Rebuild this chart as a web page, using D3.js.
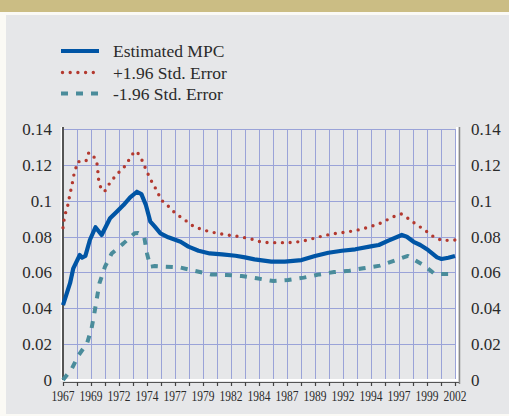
<!DOCTYPE html>
<meta charset="utf-8">
<style>
body { margin: 0; background: #fbfaf5; }
svg { display: block; }
text { font-family: "Liberation Serif", "Times New Roman", serif; fill: #2b2b2b; }
.grid line { stroke: #9aa3d8; stroke-width: 1; }
</style>
<svg width="509" height="416"></svg>
<script src="https://cdn.jsdelivr.net/npm/d3@7"></script>
<script>

// values, as [year, value]
var mpc = [[1967,0.0418],[1967.63,0.054],[1967.92,0.0623],[1968.5,0.0697],[1968.7,0.0682],[1969.0,0.0692],
  [1969.4,0.0781],[1969.9,0.0852],[1970.45,0.0809],[1971.2,0.0902],[1971.8,0.0939],[1972.4,0.0976],
  [1973.0,0.1019],[1973.6,0.105],[1974.0,0.1037],[1974.4,0.0976],[1974.8,0.0883],[1975.2,0.0855],
  [1975.7,0.0818],[1976.4,0.0796],[1977.5,0.0771],[1978.2,0.0744],[1979.1,0.0721],[1980.1,0.0706],
  [1981.2,0.0701],[1982.4,0.0693],[1983.25,0.0684],[1984.1,0.0673],[1985.6,0.066],[1986.8,0.066],
  [1988.3,0.0669],[1989.5,0.0692],[1990.7,0.071],[1991.9,0.0721],[1993.1,0.0729],[1994.6,0.0747],
  [1995.2,0.0753],[1996.05,0.0777],[1997.25,0.0809],[1997.7,0.0799],[1998.3,0.0771],[1998.9,0.0753],
  [1999.6,0.0725],[2000.4,0.0684],[2000.8,0.0675],[2001.4,0.0682],[2002,0.0692]];

var upper = [[1967,0.0849],[1967.1,0.0896],[1967.27,0.0943],[1967.5,0.0989],[1967.6,0.1036],[1967.8,0.1082],
  [1967.9,0.1128],[1968.1,0.1171],[1968.3,0.1218],[1968.6,0.1218],[1969.05,0.1221],[1969.3,0.1268],
  [1969.6,0.1259],[1970.0,0.1223],[1970.1,0.1175],[1970.15,0.1128],[1970.3,0.1082],[1970.7,0.105],
  [1971.1,0.1091],[1971.55,0.1128],[1972.1,0.1166],[1972.6,0.1197],[1973.0,0.124],[1973.4,0.1277],
  [1973.7,0.1264],[1974.1,0.1221],[1974.4,0.1175],[1974.7,0.1134],[1975.05,0.1091],[1975.45,0.105],
  [1975.7,0.1008],[1976.3,0.0976],[1976.8,0.0943],[1977.45,0.0911],[1978.1,0.0883],[1978.7,0.0855],
  [1979.4,0.084],[1980.1,0.0827],[1980.85,0.0818],[1981.6,0.0809],[1982.4,0.0803],[1983.2,0.0794],
  [1983.9,0.0785],[1984.6,0.0771],[1985.4,0.0766],[1986.2,0.0766],[1986.9,0.0766],[1987.7,0.0768],
  [1988.45,0.0775],[1989.15,0.0786],[1989.9,0.0799],[1990.6,0.0809],[1991.4,0.0818],[1992.1,0.0824],
  [1992.9,0.0831],[1993.7,0.0842],[1994.4,0.0855],[1995.1,0.0868],[1995.8,0.0889],[1996.5,0.0911],
  [1997.2,0.0926],[1997.8,0.0902],[1998.4,0.0874],[1999.0,0.0849],[1999.6,0.0822],[2000.2,0.0794],
  [2000.9,0.0777],[2001.7,0.0781],[2002,0.0781]];

var lower = [[1967,0],[1967.8,0.0065],[1968.4,0.0139],[1969.15,0.0205],[1969.55,0.0288],[1969.8,0.0372],
  [1970.05,0.0465],[1970.25,0.0539],[1970.75,0.0632],[1971.35,0.0706],[1972.4,0.0762],[1973.4,0.0818],
  [1973.7,0.082],[1974.25,0.0799],[1974.5,0.0706],[1974.8,0.0632],[1975.2,0.0636],[1976.1,0.0632],
  [1977.45,0.0628],[1978.8,0.0608],[1980.2,0.0589],[1981.6,0.0586],[1982.95,0.058],[1984.3,0.0567],
  [1985.8,0.0552],[1987.1,0.0558],[1988.5,0.0571],[1989.9,0.0589],[1991.2,0.0602],[1992.6,0.061],
  [1993.8,0.0623],[1995.3,0.0638],[1996.6,0.0666],[1997.8,0.0692],[1998.3,0.0673],[1999.2,0.0641],
  [2000.2,0.0591],[2001.7,0.0591],[2002,0.06]];

var yTicks = [0, 0.02, 0.04, 0.06, 0.08, 0.1, 0.12, 0.14];
var xGrid = d3.range(0, 29).map(function(i) { return 1967 + i * 1.25; });
var xLabels = ["1967","1969","1972","1974","1977","1979","1982","1984","1987","1989","1992","1994","1997","1999","2002"];

var series = [
  { name: "Estimated MPC", data: mpc, color: "#0055a5", width: 4.2, dash: null, cap: "butt" },
  { name: "+1.96 Std. Error", data: upper, color: "#b3392f", width: 3.4, dash: "0 7.7", cap: "round" },
  { name: "-1.96 Std. Error", data: lower, color: "#4a8c9b", width: 4, dash: "7 8", cap: "butt" }
];

var svg = d3.select("svg");

// background panels
svg.append("rect").attr("x", 0).attr("y", 0).attr("width", 509).attr("height", 12).attr("fill", "#cbbd84");
svg.append("rect").attr("x", 6).attr("y", 15).attr("width", 503).attr("height", 399).attr("fill", "#e6e7e9");

var pLeft = 63, pRight = 455, pTop = 129, pBottom = 380;

var x = d3.scaleLinear().domain([1967, 2002]).range([pLeft, pRight]);
var y = d3.scaleLinear().domain([0, 0.14]).range([pBottom, pTop]);

// grid
var grid = svg.append("g").attr("class", "grid");
grid.selectAll("line.h").data(yTicks.slice(1)).enter().append("line")
    .attr("class", "h")
    .attr("x1", pLeft).attr("x2", pRight)
    .attr("y1", function(d) { return Math.round(y(d)) + 0.5; })
    .attr("y2", function(d) { return Math.round(y(d)) + 0.5; });
grid.selectAll("line.v").data(xGrid.slice(1)).enter().append("line")
    .attr("class", "v")
    .attr("y1", pTop).attr("y2", pBottom)
    .attr("x1", function(d) { return Math.round(x(d)) + 0.5; })
    .attr("x2", function(d) { return Math.round(x(d)) + 0.5; });

// frame: left dark axis, right grey, bottom white with ticks
svg.append("line").attr("x1", pLeft - 1.5).attr("x2", pLeft - 1.5).attr("y1", pTop - 2).attr("y2", pBottom + 1)
    .attr("stroke", "#ffffff").attr("stroke-width", 1.5);
svg.append("line").attr("x1", pLeft).attr("x2", pLeft).attr("y1", pTop - 2).attr("y2", pBottom)
    .attr("stroke", "#555555").attr("stroke-width", 2);
svg.append("line").attr("x1", pRight + 2).attr("x2", pRight + 2).attr("y1", pTop - 2).attr("y2", pBottom + 1)
    .attr("stroke", "#ffffff").attr("stroke-width", 2);
svg.append("line").attr("x1", pRight + 4.5).attr("x2", pRight + 4.5).attr("y1", pTop - 2).attr("y2", pBottom + 4)
    .attr("stroke", "#8a8a8a").attr("stroke-width", 1.5);
svg.append("line").attr("x1", pLeft).attr("x2", pRight + 3).attr("y1", pBottom).attr("y2", pBottom)
    .attr("stroke", "#ffffff").attr("stroke-width", 2);
svg.append("line").attr("x1", pLeft).attr("x2", pRight + 4).attr("y1", pBottom + 2.5).attr("y2", pBottom + 2.5)
    .attr("stroke", "#555555").attr("stroke-width", 1);

var xAxis = d3.axisBottom(x).tickValues(xGrid).tickSize(4).tickFormat("");
svg.append("g").attr("transform", "translate(0," + (pBottom + 2) + ")").call(xAxis)
    .call(function(g) { g.select(".domain").remove(); })
    .selectAll(".tick line").attr("stroke", "#444").attr("stroke-width", 1.2);

svg.append("g").selectAll("text").data(xLabels).enter().append("text")
    .attr("x", function(d, i) { return x(1967 + i * 2.5); })
    .attr("y", 401)
    .attr("text-anchor", "middle")
    .attr("font-size", 15)
    .attr("textLength", 23)
    .attr("lengthAdjust", "spacingAndGlyphs")
    .text(function(d) { return d; });

// y labels both sides
var fmt = function(d) { return d === 0 ? "0" : String(+d.toFixed(2)); };
var yl = d3.axisLeft(y).tickValues(yTicks).tickSize(0).tickPadding(11).tickFormat(fmt);
var yr = d3.axisRight(y).tickValues(yTicks).tickSize(0).tickPadding(12).tickFormat(fmt);
svg.append("g").attr("transform", "translate(" + pLeft + ",0)").call(yl)
    .call(function(g) { g.select(".domain").remove(); })
    .selectAll("text").attr("font-size", 17).attr("font-family", "Liberation Serif").attr("fill", "#2b2b2b");
svg.append("g").attr("transform", "translate(" + (pRight + 4) + ",0)").call(yr)
    .call(function(g) { g.select(".domain").remove(); })
    .selectAll("text").attr("font-size", 17).attr("font-family", "Liberation Serif").attr("fill", "#2b2b2b");

// lines
var line = d3.line().x(function(d) { return x(d[0]); }).y(function(d) { return y(d[1]); });
var drawOrder = [series[2], series[1], series[0]];
svg.append("g").selectAll("path").data(drawOrder).enter().append("path")
    .attr("d", function(s) { return line(s.data); })
    .attr("fill", "none")
    .attr("stroke", function(s) { return s.color; })
    .attr("stroke-width", function(s) { return s.width; })
    .attr("stroke-dasharray", function(s) { return s.dash; })
    .attr("stroke-linecap", function(s) { return s.cap; })
    .attr("stroke-linejoin", "round");

// legend
var legend = svg.append("g").selectAll("g").data(series).enter().append("g")
    .attr("transform", function(d, i) { return "translate(61," + [51, 72.5, 93.5][i] + ")"; });
legend.append("line")
    .attr("x1", function(s) { return s.cap === "round" ? 1.5 : 0; })
    .attr("x2", 38).attr("y1", 0).attr("y2", 0)
    .attr("stroke", function(s) { return s.color; })
    .attr("stroke-width", function(s) { return s.width; })
    .attr("stroke-dasharray", function(s) { return s.dash; })
    .attr("stroke-linecap", function(s) { return s.cap; });
legend.append("text")
    .attr("x", 52).attr("y", 6)
    .attr("font-size", 17.5)
    .text(function(s) { return s.name; });

</script>
